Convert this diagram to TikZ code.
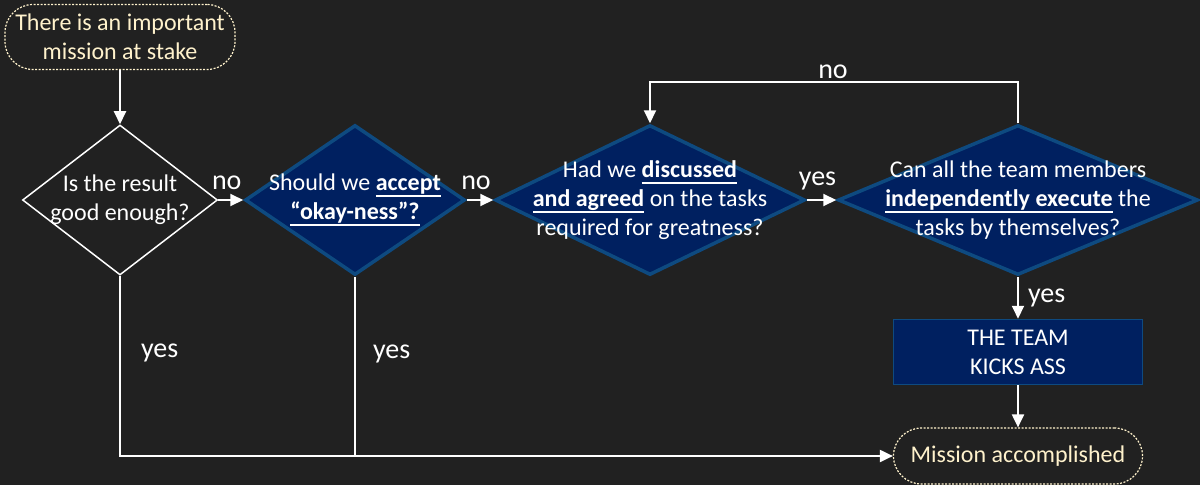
\documentclass[tikz,border=0pt]{standalone}
\usepackage{fontspec}
\setmainfont{Carlito}
\usetikzlibrary{shapes.geometric,arrows.meta}
\definecolor{bgdark}{HTML}{212121}
\definecolor{navy}{HTML}{002060}
\definecolor{rimblue}{HTML}{0E4A80}
\definecolor{cream}{HTML}{FFF2CC}
\newcommand\undr[1]{\setbox0\hbox{#1}\rlap{\rule[-6.5pt]{\wd0}{1.6pt}}\box0\relax}
\tikzset{
  said/.style={text=white,align=center,font=\fontsize{24}{29}\selectfont},
  lbl/.style={said,inner sep=9pt,font=\fontsize{28}{32}\selectfont},
  flow/.style={draw=white,line width=2pt,-{Triangle[width=12pt,length=13pt]}},
  wire/.style={draw=white,line width=2pt},
  quest/.style={diamond,draw=white,line width=1.5pt,inner sep=0pt,minimum height=150pt},
  darkquest/.style={quest,draw=rimblue,fill=navy,line width=3.5pt},
  deed/.style={said,rectangle,draw=rimblue,fill=navy,line width=1.5pt,minimum width=249pt,minimum height=65pt},
  terminal/.style={said,text=cream,rectangle,rounded corners=28pt,draw=cream,line width=1.2pt,dash pattern=on 2pt off 1.5pt,inner sep=0pt}
}
\begin{document}
\begin{tikzpicture}[x=1pt,y=-1pt]
  \useasboundingbox (0,0) rectangle (1200,485);
  \fill[bgdark] (0,0) rectangle (1200,485);
  % start and end
  \node[terminal,minimum width=230pt,minimum height=65pt] (start) at (120,37) {There is an important\\mission at stake};
  \node[terminal,minimum width=249pt,minimum height=56pt] (done) at (1018,456) {Mission accomplished};
  % the four questions
  \node[quest,minimum width=195pt] (d1) at (120,200) {};
  \node[said] (d1t) at (d1) {Is the result\\good enough?};
  \node[darkquest,minimum width=220pt] (d2) at (355,200) {};
  \node[said] (d2t) at (d2) {Should we \undr{\textbf{accept}}\\\undr{\textbf{“okay-ness”?}}};
  \node[darkquest,minimum width=310pt] (d3) at (650,200) {};
  \node[said] (d3t) at (d3) {Had we \undr{\textbf{discussed}}\\\undr{\textbf{and agreed}} on the tasks\\required for greatness?};
  \node[darkquest,minimum width=360pt] (d4) at (1018,200) {};
  \node[said] (d4t) at (d4) {Can all the team members\\\undr{\textbf{independently execute}} the\\tasks by themselves?};
  \node[deed] (team) at (1018,352) {THE TEAM\\KICKS ASS};
  \coordinate (loop) at (833,82);
  \coordinate (join) at (355,456);
  % connectors
  \draw[flow] (start) -- (d1);
  \draw[flow] (d1) -- node[lbl,above,xshift=-4pt]{no} (d2);
  \draw[flow] (d2) -- node[lbl,above,xshift=-4pt]{no} (d3);
  \draw[flow] (d3) -- node[lbl,above,xshift=-4pt]{yes} (d4);
  \draw[flow] (d4.north) |- (loop) node[lbl,above,inner sep=2pt]{no} -| (d3.north);
  \draw[flow] (d4) -- node[lbl,right]{yes} (team);
  \draw[flow] (team) -- (done);
  \draw[flow] (d1.south) |- node[lbl,right=11pt,pos=.215]{yes} (done.west);
  \draw[wire] (d2.south) -- node[lbl,right=8pt,pos=.43]{yes} (join);
\end{tikzpicture}
\end{document}
